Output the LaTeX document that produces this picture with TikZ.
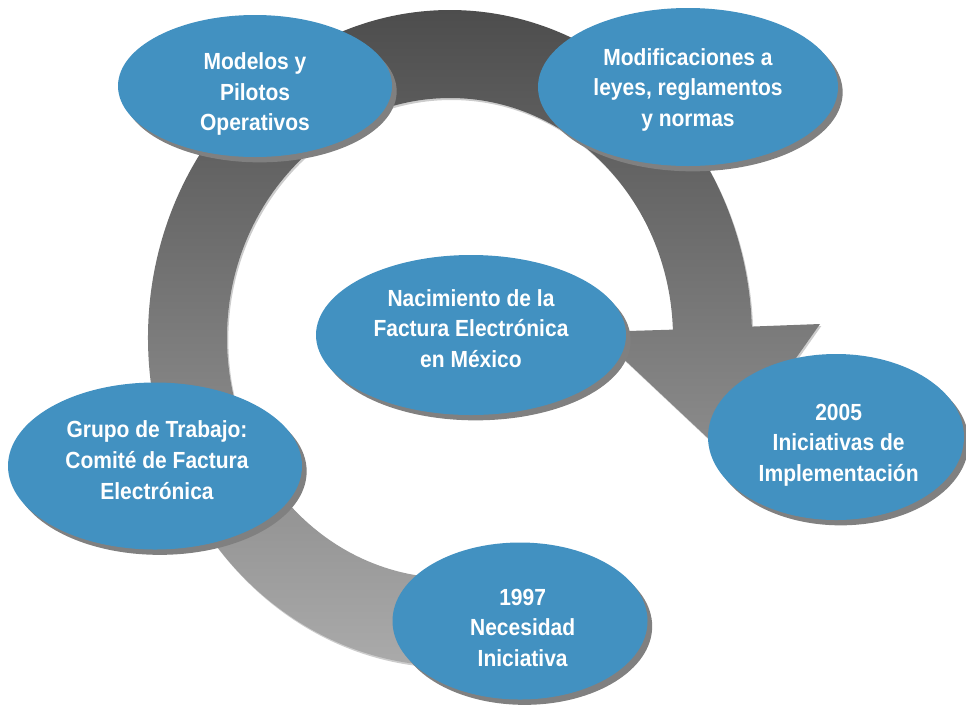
\documentclass[tikz,border=0pt]{standalone}
\usepackage{fontspec}
\setmainfont{Liberation Sans}[FakeStretch=0.9]
\usetikzlibrary{shapes.geometric,shadows,calc}
\definecolor{bubblue}{RGB}{66,145,193}
\definecolor{bubshadow}{RGB}{128,128,128}
\definecolor{ringtop}{RGB}{76,76,76}
\definecolor{ringbot}{RGB}{172,172,172}
\tikzset{
  bubble/.style={ellipse, fill=bubblue, inner sep=0pt,
    drop shadow={shadow xshift=3.5pt, shadow yshift=-4pt, fill=bubshadow, opacity=1}},
  bubtext/.style={text=white, align=center, inner sep=0pt,
    font=\bfseries\fontsize{17.5}{23}\selectfont},
  ringarrow/.style={top color=ringtop, bottom color=ringbot,
    drop shadow={shadow xshift=1pt, shadow yshift=-1.5pt, fill=black, opacity=0.2}}
}
\begin{document}
\begin{tikzpicture}[x=0.75pt, y=-0.75pt]
\useasboundingbox (0,0) rectangle (966,708);
\coordinate (rc) at (450,338);
% circular arrow
\path[ringarrow] ($(rc)+(86:302 and 328)$)
  arc[start angle=86, end angle=358, x radius=302, y radius=328]
  -- (820,324) -- (727,456) -- (595,332)
  -- ($(rc)+(358:223 and 240)$)
  arc[start angle=358, end angle=86, x radius=223, y radius=240] -- cycle;
% bubbles
\node[bubble, minimum width=205.5pt, minimum height=106.5pt,
  label={[bubtext, yshift=-6pt]center:{Modelos y\\Pilotos\\Operativos}}] (modelos) at (255,86) {};
\node[bubble, minimum width=225pt, minimum height=118.5pt,
  label={[bubtext, yshift=-2pt]center:{Modificaciones a\\leyes, reglamentos\\y normas}}] (modif) at (688,87) {};
\node[bubble, minimum width=232.5pt, minimum height=120pt,
  label={[bubtext, yshift=5pt]center:{Nacimiento de la\\Factura Electrónica\\en México}}] (nac) at (471,335) {};
\node[bubble, minimum width=192pt, minimum height=124.5pt,
  label={[bubtext, yshift=-6pt, xshift=2pt]center:{2005\\Iniciativas de\\Implementación}}] (y2005) at (836,437) {};
\node[bubble, minimum width=220.5pt, minimum height=125.25pt,
  label={[bubtext, yshift=4.5pt, xshift=1.5pt]center:{Grupo de Trabajo:\\Comité de Factura\\Electrónica}}] (grupo) at (155,466) {};
\node[bubble, minimum width=191.25pt, minimum height=117.75pt,
  label={[bubtext, yshift=-5pt, xshift=2pt]center:{1997\\Necesidad\\Iniciativa}}] (y1997) at (520,621) {};
\end{tikzpicture}
\end{document}
